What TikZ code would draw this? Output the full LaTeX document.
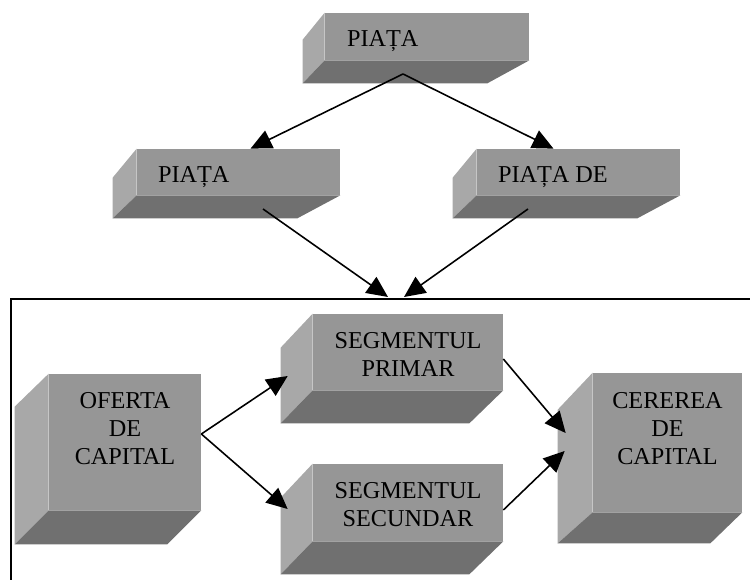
\documentclass[tikz,border=0pt]{standalone}
\usepackage{fontspec}
\setmainfont{Liberation Serif}
\usetikzlibrary{positioning, arrows.meta, calc}

\definecolor{frontgray}{RGB}{150,150,150}
\definecolor{sidegray}{RGB}{168,168,168}
\definecolor{bottomgray}{RGB}{112,112,112}

\tikzset{
	front/.style={rectangle, fill=frontgray, inner sep=0pt},
	sideface/.style={fill=sidegray},
	bottomface/.style={fill=bottomgray},
	lbl/.style={inner sep=0pt, align=center, font=\fontsize{13.8}{16}\selectfont},
	arr/.style={-{Triangle[length=12pt, width=11pt]}, line width=0.9pt, black},
	frame/.style={line width=1.1pt, black}
}

% left and bottom faces of a 3d box: name, dx, dy top, dy bottom, dx right
\newcommand{\boxsides}[5]{%
	\fill[sideface] (#1.north west) -- ++(-#2,#3) -- ([shift={(-#2,#4)}]#1.south west) -- (#1.south west) -- cycle;
	\fill[bottomface] (#1.south west) -- ++(-#2,#4) -- ([shift={(-#5,#4)}]#1.south east) -- (#1.south east) -- cycle;
}

\begin{document}
\begin{tikzpicture}[x=0.02cm, y=-0.02cm]
			\useasboundingbox (0,0) rectangle (750,580);
			
			% Top box
			\node[front, minimum width=4.08cm, minimum height=0.94cm] (piata) at (427, 36.5) {};
			\boxsides{piata}{22}{27}{23}{42}
			\node[lbl, anchor=base west] (piata-t) at ([shift={(22,10.5)}]piata.west) {PIAȚA};
			
			% Middle row
			\node[front, minimum width=4.06cm, minimum height=0.92cm] (pmon) at (238.5, 172) {};
			\boxsides{pmon}{24}{29}{23}{43}
			\node[lbl, anchor=base west] (pmon-t) at ([shift={(21,11)}]pmon.west) {PIAȚA};
			
			\node[front, minimum width=4.06cm, minimum height=0.92cm] (pcap) at (578.5, 172) {};
			\boxsides{pcap}{24}{29}{23}{43}
			\node[lbl, anchor=base west] (pcap-t) at ([shift={(21,11)}]pcap.west) {PIAȚA DE};
			
			% Frame
			\draw[frame] (750, 299) -| (11, 580);
			
			% Lower boxes
			\node[front, minimum width=3.04cm, minimum height=2.72cm] (oferta) at (125, 442) {};
			\boxsides{oferta}{34}{33}{34}{34}
			\node[lbl, below=0.36cm of oferta.north] (oferta-t) {OFERTA\\DE\\CAPITAL};
			
			\node[front, minimum width=3.8cm, minimum height=1.52cm] (primar) at (408, 352) {};
			\boxsides{primar}{32}{34}{33}{34}
			\node[lbl, below=0.36cm of primar.north] (primar-t) {SEGMENTUL\\PRIMAR};
			
			\node[front, minimum width=3.8cm, minimum height=1.54cm] (secundar) at (408, 502.5) {};
			\boxsides{secundar}{32}{34}{33}{34}
			\node[lbl, below=0.36cm of secundar.north] (secundar-t) {SEGMENTUL\\SECUNDAR};
			
			\node[front, minimum width=2.98cm, minimum height=2.78cm] (cerere) at (667.5, 442.5) {};
			\boxsides{cerere}{35}{37}{31}{32}
			\node[lbl, below=0.38cm of cerere.north] (cerere-t) {CEREREA\\DE\\CAPITAL};
			
			% Arrows
			\coordinate (piata-out) at (403, 74);
			\coordinate (pmon-out) at (263, 209);
			\coordinate (pcap-out) at (528, 209);
			\coordinate (in-l) at (388, 297);
			\coordinate (in-r) at (404, 297);
			
			\draw[arr] (piata-out) -- ([shift={(12,0)}]pmon.north);
			\draw[arr] (piata-out) -- ([shift={(-25,0)}]pcap.north);
			\draw[arr] (pmon-out) -- (in-l);
			\draw[arr] (pcap-out) -- (in-r);
			
			\draw[arr] ([shift={(0,-8)}]oferta.east) -- ([shift={(-25,24)}]primar.west);
			\draw[arr] ([shift={(0,-8)}]oferta.east) -- ([shift={(-25,6.5)}]secundar.west);
			\draw[arr] ([shift={(0,7)}]primar.east) -- ([shift={(-27,-9.5)}]cerere.west);
			\draw[arr] ([shift={(0,7.5)}]secundar.east) -- ([shift={(-28,8.5)}]cerere.west);
			
		\end{tikzpicture}
\end{document}
